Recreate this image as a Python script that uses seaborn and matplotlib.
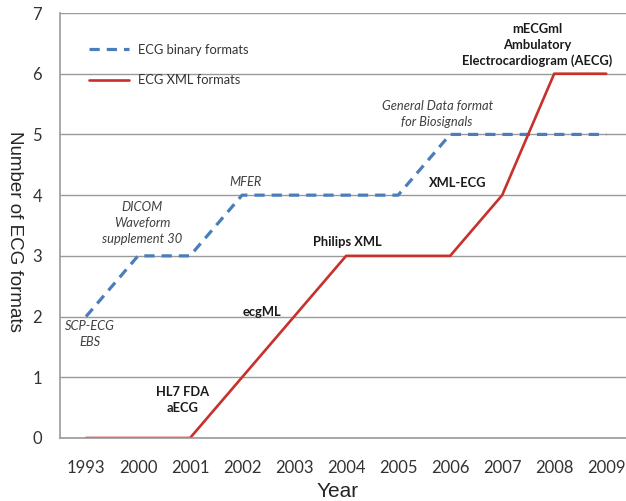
import matplotlib
matplotlib.use("Agg")
import matplotlib.pyplot as plt
import seaborn as sns
import numpy as np

years = ["1993", "2000", "2001", "2002", "2003", "2004", "2005", "2006", "2007", "2008", "2009"]
binary_formats = [2, 3, 3, 4, 4, 4, 4, 5, 5, 5, 5]
xml_formats = [0, 0, 0, 1, 2, 3, 3, 3, 4, 6, 6]

blue = "#4A7EBB"
red = "#C8302C"
grid_col = "#9A9A9A"

sns.set_theme(style="white")
plt.rcParams["font.family"] = ["Lato", "DejaVu Sans"]

fig = plt.figure(figsize=(6.26, 5.01), dpi=100)
ax = fig.add_axes([60 / 626, 63 / 501, 1 - 60 / 626, 425 / 501])

pos = np.arange(len(years))
sns.lineplot(x=pos, y=binary_formats, ax=ax, color=blue, lw=2.3,
             label="ECG binary formats")
ax.lines[-1].set_dashes((3.2, 2.2))
sns.lineplot(x=pos, y=xml_formats, ax=ax, color=red, lw=1.9,
             label="ECG XML formats")

ax.set_xlim(-0.5, 10.38)
ax.set_ylim(0, 7)
ax.set_yticks(range(0, 8))
ax.yaxis.grid(True, color=grid_col, lw=1)
ax.xaxis.grid(False)
ax.set_axisbelow(True)

ax.set_xticks(pos)
ax.set_xticklabels(years, fontsize=12, color="#333333")
ax.set_xticks(np.arange(-0.5, 10.5, 1), minor=True)
ax.tick_params(axis="x", which="major", length=0, pad=16)
ax.tick_params(axis="x", which="minor", length=4, color=grid_col, direction="out")
ax.tick_params(axis="y", length=4, color=grid_col, labelsize=12,
               labelcolor="#333333", pad=9)
ax.yaxis.set_tick_params(direction="out")

for s in ["top", "right"]:
    ax.spines[s].set_visible(False)
for s in ["left", "bottom"]:
    ax.spines[s].set_color(grid_col)
    ax.spines[s].set_linewidth(1.2)

ax.set_ylabel("Number of ECG formats", fontsize=13.5, family="Liberation Sans",
              rotation=-90, va="center", ha="center")
ax.yaxis.set_label_coords(-0.08, 0.487)
ax.set_xlabel("Year", fontsize=15, family="Liberation Sans", va="top")
ax.xaxis.set_label_coords(0.49, -0.103)

leg = ax.legend(loc="upper left", bbox_to_anchor=(0.03, 0.955), frameon=False,
                fontsize=9.3, handlelength=3.1, handletextpad=0.75,
                labelspacing=1.42)
for t in leg.get_texts():
    t.set_color("#333333")

ital = dict(fontsize=9.3, style="italic", color="#404040", ha="center", va="center")
bold = dict(fontsize=9.3, weight="bold", color="#1a1a1a", ha="center", va="center")

ax.text(0.08, 1.71, "SCP-ECG\nEBS", linespacing=1.36, **ital)
ax.text(1.08, 3.54, "DICOM\nWaveform\nsupplement 30", linespacing=1.36, **ital)
ax.text(3.06, 4.22, "MFER", **ital)
ax.text(6.75, 5.34, "General Data format\nfor Biosignals", linespacing=1.36, **ital)
ax.text(7.15, 4.2, "XML-ECG", **bold)
ax.text(5.02, 3.23, "Philips XML", **bold)
ax.text(3.38, 2.08, "ecgML", **bold)
ax.text(1.85, 0.63, "HL7 FDA\naECG", linespacing=1.36, **bold)
ax.text(8.67, 6.47, "mECGml\nAmbulatory\nElectrocardiogram (AECG)", linespacing=1.36, **bold)

fig.savefig("out.png", dpi=100)
